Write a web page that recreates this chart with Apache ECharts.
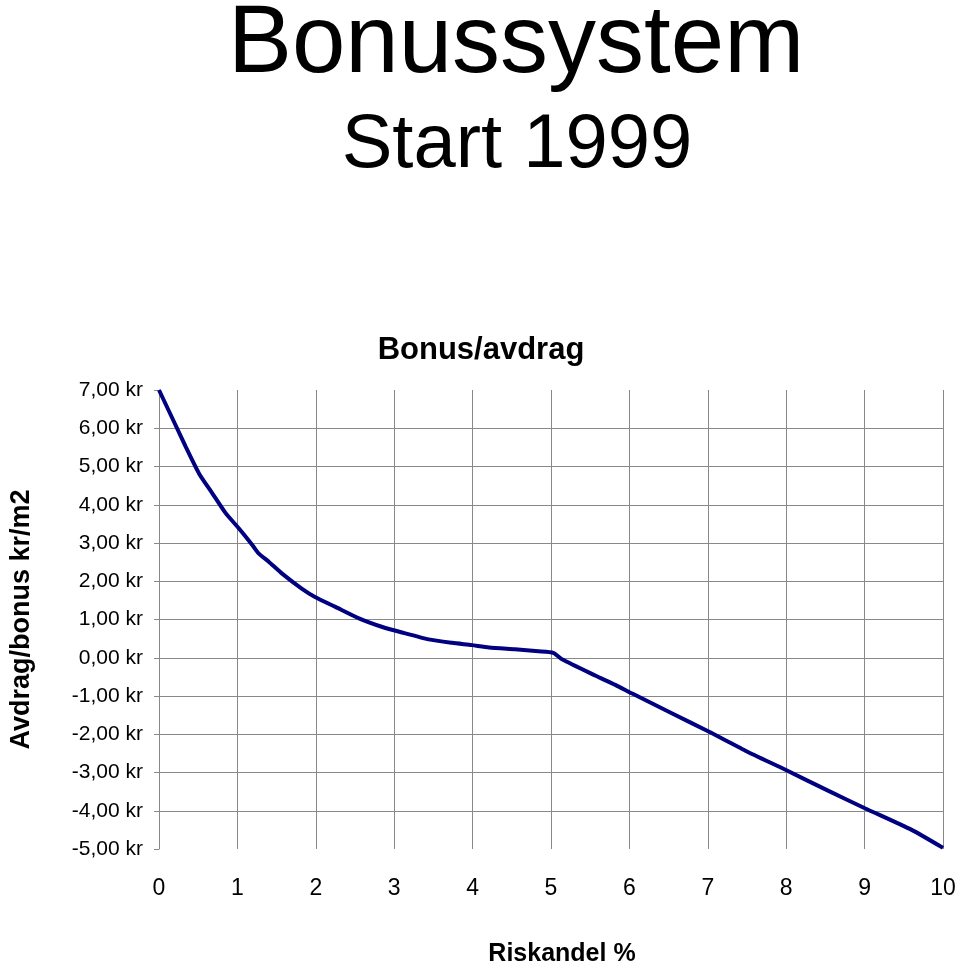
<!DOCTYPE html>
<html>
<head>
<meta charset="utf-8">
<script src="https://cdn.jsdelivr.net/npm/echarts@6/dist/echarts.min.js"></script>
<style>
  html, body { margin: 0; padding: 0; background: #fff; }
  #main { width: 960px; height: 970px; }
</style>
</head>
<body>
<div id="main"></div>
<script>
// Riskandel % (x) and Avdrag/bonus kr/m2 (y)
var riskandel = [0, 0.23, 0.34, 0.51, 0.68, 0.85, 1.02, 1.19, 1.27, 1.40, 1.57, 1.82, 1.99,
  2.25, 2.55, 2.84, 3.10, 3.44, 3.74, 3.99, 4.21, 4.54, 4.84, 5.03, 5.14, 5.57,
  5.82, 6.03, 6.54, 7.01, 7.48, 7.99, 8.54, 9.01, 9.60, 10];
var bonus = [7.00, 6.00, 5.52, 4.82, 4.30, 3.78, 3.38, 2.95, 2.73, 2.51, 2.20, 1.81, 1.59,
  1.33, 1.03, 0.81, 0.66, 0.48, 0.39, 0.33, 0.27, 0.22, 0.17, 0.13, -0.04, -0.47,
  -0.71, -0.93, -1.45, -1.93, -2.43, -2.93, -3.48, -3.94, -4.50, -4.97];

var font = '"Liberation Sans", Arial, sans-serif';
var gridColor = '#888888';

var chart = echarts.init(document.getElementById('main'));

var option = {
  backgroundColor: '#fff',
  animation: false,
  graphic: [
    { type: 'text', x: 516, y: 46,
      style: { text: 'Bonussystem', fontSize: 96, fontFamily: font, fill: '#000', align: 'center', verticalAlign: 'middle' } },
    { type: 'text', x: 517, y: 146,
      style: { text: 'Start 1999', fontSize: 76, fontFamily: font, fill: '#000', align: 'center', verticalAlign: 'middle' } },
    { type: 'text', x: 481, y: 350,
      style: { text: 'Bonus/avdrag', fontSize: 31, fontWeight: 'bold', fontFamily: font, fill: '#000', align: 'center', verticalAlign: 'middle' } }
  ],
  grid: { left: 157, right: 17, top: 390, bottom: 121 },
  xAxis: {
    type: 'value',
    min: 0, max: 10, interval: 1,
    name: 'Riskandel %',
    nameLocation: 'middle',
    nameGap: 93,
    nameTextStyle: { fontSize: 25, fontWeight: 'bold', fontFamily: font, color: '#000', padding: [0, 0, 0, 22], verticalAlign: 'top' },
    axisLine: { show: false, onZero: false },
    axisTick: { show: false },
    axisLabel: { margin: 28, fontSize: 23, fontFamily: font, color: '#000' },
    splitLine: { show: true, showMinLine: false, lineStyle: { color: gridColor, width: 1 } }
  },
  yAxis: {
    type: 'value',
    min: -5, max: 7, interval: 1,
    name: 'Avdrag/bonus kr/m2',
    nameLocation: 'middle',
    nameRotate: 90,
    nameGap: 124,
    nameTextStyle: { fontSize: 27, fontWeight: 'bold', fontFamily: font, color: '#000' },
    axisLine: { show: true, lineStyle: { color: gridColor, width: 1 } },
    axisTick: { show: true, length: 5, lineStyle: { color: gridColor } },
    axisLabel: {
      margin: 16, fontSize: 21, fontFamily: font, color: '#000',
      formatter: function (v) { return v.toFixed(2).replace('.', ',') + ' kr'; }
    },
    splitLine: { show: true, showMinLine: false, showMaxLine: false, lineStyle: { color: gridColor, width: 1 } }
  },
  series: [{
    type: 'line',
    name: 'Bonus/avdrag',
    data: riskandel.map(function (x, i) { return [x, bonus[i]]; }),
    showSymbol: false,
    symbol: 'none',
    lineStyle: { color: '#000080', width: 4 },
    smooth: 0.2
  }]
};

chart.setOption(option);
</script>
</body>
</html>
